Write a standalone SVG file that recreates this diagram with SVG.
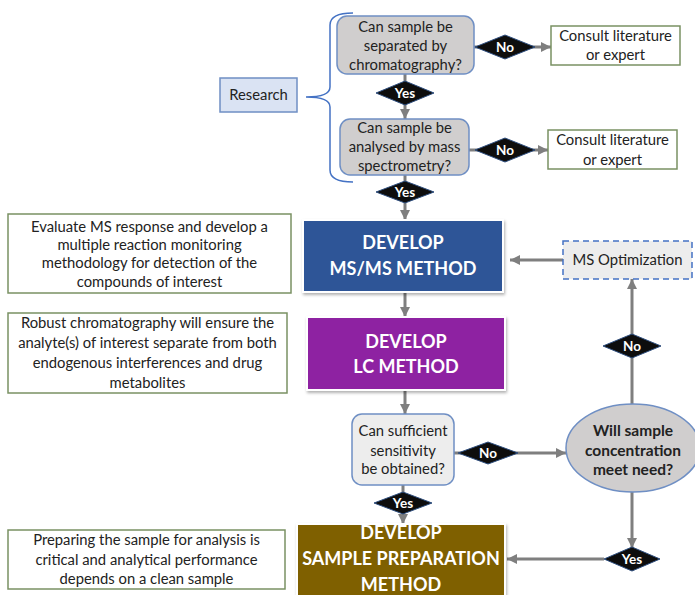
<svg xmlns="http://www.w3.org/2000/svg" width="695" height="595" viewBox="0 0 695 595">
<defs>
<marker id="ah" markerUnits="userSpaceOnUse" markerWidth="12" markerHeight="12" viewBox="0 0 12 12" refX="11" refY="6" orient="auto">
<path d="M1,1 L11,6 L1,11 Z" fill="#7f7f7f"/>
</marker>
<filter id="sh" x="-10%" y="-10%" width="120%" height="130%">
<feDropShadow dx="1" dy="2" stdDeviation="1.5" flood-color="#000" flood-opacity="0.3"/>
</filter>
</defs>
<style>
text{font-family:Lato,"Open Sans","Liberation Sans",sans-serif;text-anchor:middle;fill:#222}
.q{fill:#d0cece;stroke:#6f8fc4;stroke-width:1.5}
.q2{fill:#ededed;stroke:#6f8fc4;stroke-width:1.5}
.note{fill:#fff;stroke:#7a9163;stroke-width:1.5}
.t{font-size:14.8px}
.big{font-size:18px;font-weight:bold;fill:#fff}
.dia{fill:#0d0d0d;stroke:#2f4f7f;stroke-width:1}
.dt{font-size:13.5px;font-weight:bold;fill:#fff}
.c{stroke:#7f7f7f;stroke-width:3;fill:none}
.ca{stroke:#7f7f7f;stroke-width:3;fill:none;marker-end:url(#ah)}
.main{stroke:#fff;stroke-width:2;filter:url(#sh)}
.bt{font-size:15.5px;font-weight:bold}
</style>

<g id="connectors">
<line class="ca" x1="405" y1="74" x2="405" y2="119"/>
<line class="ca" x1="405" y1="175" x2="405" y2="220"/>
<line class="ca" x1="474" y1="47" x2="551" y2="47"/>
<line class="ca" x1="469" y1="150" x2="548" y2="150"/>
<line class="ca" x1="405" y1="293" x2="405" y2="317"/>
<line class="ca" x1="405" y1="391" x2="405" y2="414"/>
<line class="ca" x1="403" y1="485" x2="403" y2="524"/>
<line class="ca" x1="454" y1="453" x2="566" y2="453"/>
<line class="ca" x1="632" y1="404" x2="632" y2="279"/>
<line class="ca" x1="563" y1="260" x2="510" y2="260"/>
<line class="ca" x1="632" y1="492" x2="632" y2="548"/>
<line class="ca" x1="604" y1="559" x2="507" y2="559"/>
<path d="M353,13 Q330,13 330,25 L330,87 Q330,97 306,97 Q330,97 330,107 L330,170 Q330,182 353,182" fill="none" stroke="#4472c4" stroke-width="1.5"/>
</g>

<g id="research">
<rect x="220" y="78" width="77" height="34" fill="#dae3f3" stroke="#6f8fc4" stroke-width="1.5"/>
<text class="t" x="258.5" y="100">Research</text>
</g>

<g id="q-chrom">
<rect class="q" x="337" y="16" width="137" height="58" rx="10"/>
<text class="t" x="405.5" y="32">Can sample be</text>
<text class="t" x="405.5" y="51">separated by</text>
<text class="t" x="405.5" y="70">chromatography?</text>
</g>

<g id="q-ms">
<rect class="q" x="340" y="119" width="129" height="56" rx="10"/>
<text class="t" x="404.5" y="133">Can sample be</text>
<text class="t" x="404.5" y="152">analysed by mass</text>
<text class="t" x="404.5" y="171">spectrometry?</text>
</g>

<g id="consult1">
<rect class="note" x="551" y="26" width="129" height="39"/>
<text class="t" x="615.5" y="41">Consult literature</text>
<text class="t" x="615.5" y="60">or expert</text>
</g>

<g id="consult2">
<rect class="note" x="548" y="130" width="129" height="39"/>
<text class="t" x="612.5" y="145">Consult literature</text>
<text class="t" x="612.5" y="165">or expert</text>
</g>

<g id="note-ms">
<rect class="note" x="8" y="214" width="283" height="79"/>
<text class="t" x="149.5" y="232">Evaluate MS response and develop a</text>
<text class="t" x="149.5" y="250">multiple reaction monitoring</text>
<text class="t" x="149.5" y="268">methodology for detection of the</text>
<text class="t" x="149.5" y="287">compounds of interest</text>
</g>

<g id="note-lc">
<rect class="note" x="8" y="313" width="279" height="80"/>
<text class="t" x="147.5" y="328">Robust chromatography will ensure the</text>
<text class="t" x="147.5" y="348">analyte(s) of interest separate from both</text>
<text class="t" x="147.5" y="368">endogenous interferences and drug</text>
<text class="t" x="147.5" y="388">metabolites</text>
</g>

<g id="note-prep">
<rect class="note" x="8" y="530" width="277" height="59"/>
<text class="t" x="146.5" y="545">Preparing the sample for analysis is</text>
<text class="t" x="146.5" y="565">critical and analytical performance</text>
<text class="t" x="146.5" y="584">depends on a clean sample</text>
</g>

<g id="msms">
<rect class="main" x="303" y="220" width="200" height="72" fill="#2f5597"/>
<text class="big" x="403" y="249">DEVELOP</text>
<text class="big" x="403" y="275">MS/MS METHOD</text>
</g>

<g id="lc">
<rect class="main" x="307" y="317" width="198" height="73" fill="#8e22a2"/>
<text class="big" x="406" y="348">DEVELOP</text>
<text class="big" x="406" y="373">LC METHOD</text>
</g>

<g id="sens">
<rect class="q2" x="352" y="414" width="102" height="71" rx="10"/>
<text class="t" x="403" y="436">Can sufficient</text>
<text class="t" x="403" y="456">sensitivity</text>
<text class="t" x="403" y="474">be obtained?</text>
</g>

<g id="prep">
<rect class="main" x="297" y="524" width="208" height="74" fill="#7f6000"/>
<text class="big" x="401" y="539">DEVELOP</text>
<text class="big" x="401" y="565">SAMPLE PREPARATION</text>
<text class="big" x="401" y="591">METHOD</text>
</g>

<g id="msopt">
<rect x="563" y="241" width="129" height="38" fill="#ededed" stroke="#4472c4" stroke-width="1.5" stroke-dasharray="6,4"/>
<text class="t" x="627.5" y="265">MS Optimization</text>
</g>

<g id="conc">
<ellipse cx="633" cy="448" rx="67" ry="44" fill="#d0cece" stroke="#6f8fc4" stroke-width="1.5"/>
<text class="bt" x="633" y="436">Will sample</text>
<text class="bt" x="633" y="456">concentration</text>
<text class="bt" x="633" y="475">meet need?</text>
</g>

<g id="yes1"><path class="dia" d="M376,93 L405,81 L434,93 L405,105 Z"/><text class="dt" x="405" y="98">Yes</text></g>
<g id="yes2"><path class="dia" d="M376,192 L405,181 L434,192 L405,203 Z"/><text class="dt" x="405" y="197">Yes</text></g>
<g id="no1"><path class="dia" d="M475,47 L505,35 L535,47 L505,59 Z"/><text class="dt" x="505" y="52">No</text></g>
<g id="no2"><path class="dia" d="M475,150 L505,138 L535,150 L505,162 Z"/><text class="dt" x="505" y="155">No</text></g>
<g id="yes3"><path class="dia" d="M374,503 L403,492 L432,503 L403,514 Z"/><text class="dt" x="403" y="508">Yes</text></g>
<g id="no3"><path class="dia" d="M458,453 L488,442 L518,453 L488,464 Z"/><text class="dt" x="488" y="458">No</text></g>
<g id="no4"><path class="dia" d="M603,346 L632,334 L661,346 L632,358 Z"/><text class="dt" x="632" y="351">No</text></g>
<g id="yes4"><path class="dia" d="M604,559 L632,547 L660,559 L632,571 Z"/><text class="dt" x="632" y="564">Yes</text></g>
</svg>
